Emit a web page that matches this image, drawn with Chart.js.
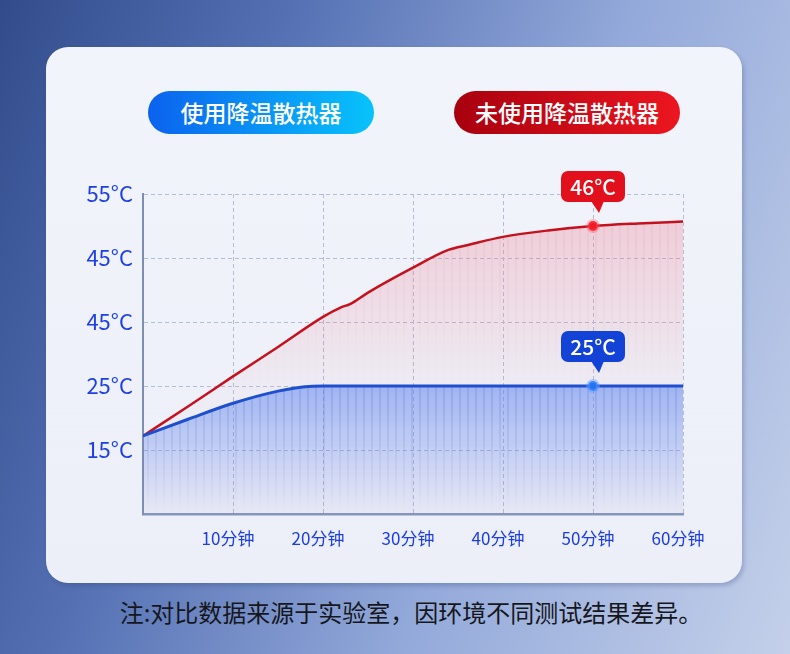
<!DOCTYPE html>
<html>
<head>
<meta charset="utf-8">
<script src="https://cdn.jsdelivr.net/npm/chart.js@4.4.1/dist/chart.umd.min.js"></script>
<style>
  html, body { margin: 0; padding: 0; }
  body {
    width: 790px; height: 654px; position: relative; overflow: hidden;
    font-family: "Noto Sans CJK SC", "Noto Sans", sans-serif;
    background: linear-gradient(110deg, #324c8b 0%, #5470b3 28%, #93a9da 62%, #c4d0ea 100%);
  }
  .card {
    position: absolute; left: 46px; top: 47px; width: 696px; height: 536px;
    border-radius: 22px;
    background: linear-gradient(180deg, #f1f4fa 0%, #eceff8 100%);
    box-shadow: 2px 3px 4px rgba(40, 60, 110, 0.25);
  }
  .pill {
    position: absolute; top: 91px; height: 43px; width: 226px;
    border-radius: 22px; color: #fff; font-size: 23px; font-weight: 500;
    line-height: 43px; text-align: center;
  }
  .blue { left: 148px; background: linear-gradient(90deg, #0b62ee, #08c3fb); }
  .red { left: 454px; background: linear-gradient(90deg, #a8000e, #ec1620); }
  .note {
    position: absolute; left: 16px; width: 790px; top: 596px; text-align: center;
    font-size: 24px; color: #15171d; line-height: 32px;
  }
  #chart { position: absolute; left: 0; top: 0; }
</style>
</head>
<body>
<div class="card"></div>
<div class="pill blue">使用降温散热器</div>
<div class="pill red">未使用降温散热器</div>
<div class="note">注:对比数据来源于实验室，因环境不同测试结果差异。</div>
<canvas id="chart" width="790" height="654"></canvas>
<script>
// minutes / temperature
const redMinutes  = [0, 5, 10, 15, 20, 22, 23, 25, 30, 34, 36, 40, 45, 50, 55, 60];
const redTemps    = [17.2, 21.8, 26.5, 31.1, 35.8, 37.3, 37.8, 39.6, 43.5, 46.3, 47.0, 48.3, 49.3, 50.0, 50.4, 50.7];
const blueMinutes = [0, 5, 10, 15, 18, 20, 30, 40, 50, 60];
const blueTemps   = [17.2, 19.8, 22.3, 24.2, 24.9, 25, 25, 25, 25, 25];

const xTickLabels = ["10分钟", "20分钟", "30分钟", "40分钟", "50分钟", "60分钟"];
const yTickValues = [15, 25, 35, 45, 55];
const yTickLabels = ["15°C", "25°C", "45°C", "45°C", "55°C"];

const calloutMinute = 50;
const redCallout = "46°C";
const blueCallout = "25°C";

function pts(xs, ys) {
  return xs.map((x, i) => ({ x: x, y: ys[i] }));
}

// gradient + vertical stripes, built once the chart area is known
const fillCache = {};
function stripeFill(key, chart, fromVal, toVal, rgb, a0, sAlpha) {
  const area = chart.chartArea;
  if (!area) return "rgba(" + rgb + "," + a0 + ")";
  const id = key + area.left + "," + area.top + "," + area.right + "," + area.bottom;
  if (fillCache[id]) return fillCache[id];
  const c = document.createElement("canvas");
  c.width = chart.width; c.height = chart.height;
  const g = c.getContext("2d");
  const y0 = chart.scales.y.getPixelForValue(fromVal);
  const y1 = chart.scales.y.getPixelForValue(toVal);
  const grad = g.createLinearGradient(0, y0, 0, y1);
  grad.addColorStop(0, "rgba(" + rgb + "," + a0 + ")");
  grad.addColorStop(1, "rgba(" + rgb + ",0.03)");
  g.fillStyle = grad;
  g.fillRect(area.left, 0, area.width, c.height);
  const sg = g.createLinearGradient(0, y0, 0, y1);
  sg.addColorStop(0, "rgba(" + rgb + "," + sAlpha + ")");
  sg.addColorStop(1, "rgba(" + rgb + ",0)");
  g.fillStyle = sg;
  for (let x = area.left + 4; x < area.right; x += 8) g.fillRect(x, 0, 2, c.height);
  fillCache[id] = g.createPattern(c, "no-repeat");
  return fillCache[id];
}

function roundRect(ctx, x, y, w, h, r) {
  ctx.beginPath();
  ctx.moveTo(x + r, y);
  ctx.arcTo(x + w, y, x + w, y + h, r);
  ctx.arcTo(x + w, y + h, x, y + h, r);
  ctx.arcTo(x, y + h, x, y, r);
  ctx.arcTo(x, y, x + w, y, r);
  ctx.closePath();
}

const calloutPlugin = {
  id: "callouts",
  afterDatasetsDraw(chart) {
    const ctx = chart.ctx;
    chart.data.datasets.forEach((ds, i) => {
      if (!ds.callout) return;
      const meta = chart.getDatasetMeta(i);
      const idx = ds.data.findIndex(p => p.x === calloutMinute);
      const el = meta.data[idx];
      if (!el) return;
      const w = 64, h = 31, bottom = el.y - 24;
      const left = el.x - w / 2;
      ctx.save();
      ctx.fillStyle = ds.calloutColor;
      roundRect(ctx, left, bottom - h, w, h, 7);
      ctx.fill();
      ctx.beginPath();
      ctx.moveTo(el.x - 2, bottom - 1);
      ctx.lineTo(el.x + 11, bottom - 1);
      ctx.lineTo(el.x + 6, bottom + 11);
      ctx.closePath();
      ctx.fill();
      ctx.fillStyle = "#fff";
      ctx.font = "500 21px 'Noto Sans CJK SC', sans-serif";
      ctx.textAlign = "center";
      ctx.textBaseline = "middle";
      ctx.fillText(ds.callout, el.x, bottom - h / 2 + 1);
      ctx.restore();
    });
  }
};

const gridColor = "#b4bdd6";
const ctx = document.getElementById("chart").getContext("2d");

new Chart(ctx, {
  type: "line",
  data: {
    datasets: [{
      data: pts(redMinutes, redTemps),
      borderColor: "#c4111d",
      borderWidth: 2.5,
      cubicInterpolationMode: "monotone",
      fill: "start",
      backgroundColor: c => stripeFill("red", c.chart, 51, 24, "236,120,140", 0.3, 0.12),
      pointRadius: c => (c.raw && c.raw.x === calloutMinute ? 5 : 0),
      pointBackgroundColor: "#f01a26",
      pointBorderColor: "rgba(255,90,100,0.35)",
      pointBorderWidth: 4,
      callout: redCallout,
      calloutColor: "#e2101c",
      order: 2
    }, {
      data: pts(blueMinutes, blueTemps),
      borderColor: "#1d4fcf",
      borderWidth: 3,
      cubicInterpolationMode: "monotone",
      fill: "start",
      backgroundColor: c => stripeFill("blue", c.chart, 25, 5, "85,125,235", 0.5, 0.28),
      pointRadius: c => (c.raw && c.raw.x === calloutMinute ? 5 : 0),
      pointBackgroundColor: "#1f72f2",
      pointBorderColor: "rgba(100,160,255,0.45)",
      pointBorderWidth: 4,
      callout: blueCallout,
      calloutColor: "#1242d6",
      order: 1
    }]
  },
  options: {
    responsive: false,
    animation: false,
    layout: { padding: { top: 194, right: 107, bottom: 100, left: 0 } },
    plugins: { legend: { display: false }, tooltip: { enabled: false } },
    scales: {
      x: {
        type: "linear", min: 0, max: 60,
        afterFit: s => { s.height = 40; },
        grid: { color: gridColor, lineWidth: 1, drawTicks: false },
        border: { color: "#8696bb", width: 2.5, dash: [4, 3] },
        ticks: {
          stepSize: 10, padding: 14, labelOffset: -5,
          color: "#1b3de2",
          font: { family: "'Noto Sans CJK SC', sans-serif", size: 17 },
          callback: v => (v === 0 ? "" : xTickLabels[v / 10 - 1])
        }
      },
      y: {
        min: 5, max: 55,
        afterFit: s => { s.width = 143; },
        grid: { color: gridColor, lineWidth: 1, drawTicks: false },
        border: { color: "#7e8eb2", width: 2, dash: [4, 3] },
        ticks: {
          stepSize: 10, padding: 10,
          color: "#1e3fe6",
          font: { family: "'Noto Sans CJK SC', sans-serif", size: 22 },
          callback: v => { const k = yTickValues.indexOf(v); return k < 0 ? "" : yTickLabels[k]; }
        }
      }
    }
  },
  plugins: [calloutPlugin]
});
</script>
</body>
</html>
